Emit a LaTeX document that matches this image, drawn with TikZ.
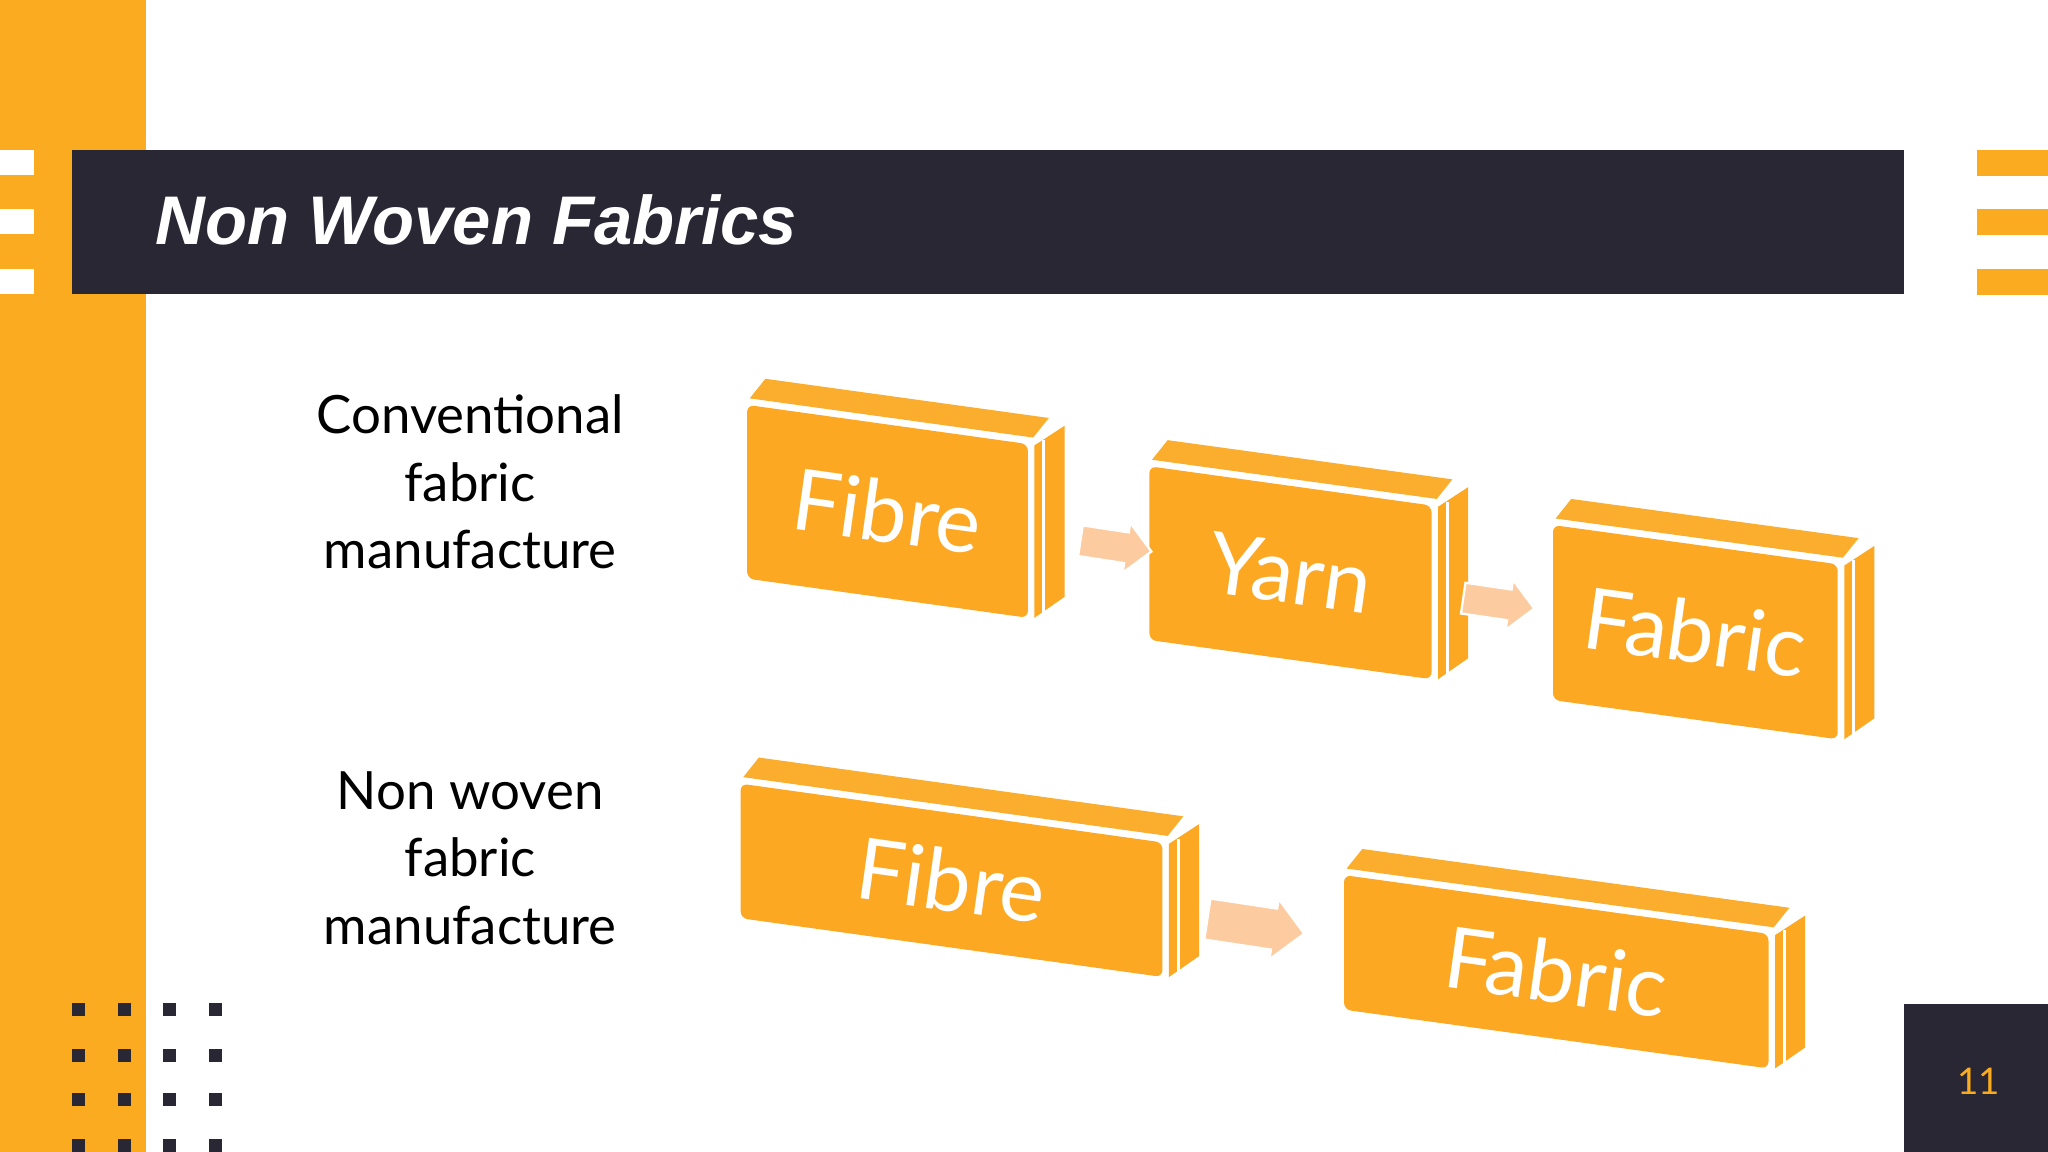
\documentclass[tikz,border=0pt]{standalone}
\usepackage{fontspec}
\setmainfont{Lato}
\newfontfamily\titlefont{Liberation Sans}
\usetikzlibrary{shapes.arrows}
\definecolor{org}{HTML}{FBAB1F}
\definecolor{boxc}{HTML}{FCA823}
\definecolor{topc}{HTML}{FBAE2E}
\definecolor{dark}{HTML}{282733}
\definecolor{peach}{HTML}{FDCBA0}
\tikzset{
 boxtext/.style={text=white,font=\fontsize{37}{40}\selectfont,inner sep=0},
 lab/.style={align=center,font=\fontsize{23}{29.5}\selectfont,text=black},
 parrow/.style={single arrow,fill=peach,draw=white,line width=1pt,minimum height=1.1cm,inner sep=0.22cm,single arrow head extend=0.15cm,sloped},
 dot/.style={fill=dark}
}
\newcommand\slab[7]{%
 \fill[topc] (#2+2,#3-5) -- (#2+14,#3-20) -- (#2+#4+16,#3+#6-20) -- (#2+#4+4,#3+#6-5) -- cycle;
 \fill[boxc,rounded corners=3] (#2,#3) -- (#2+#4,#3+#6) -- (#2+#4,#3+#6+#5) -- (#2,#3+#5) -- cycle;
 \fill[boxc] (#2+#4+5,#3+#6+1) -- (#2+#4+28,#3+#6-14) -- (#2+#4+28,#3+#6+#5-16) -- (#2+#4+5,#3+#6+#5) -- cycle;
 \draw[white,line width=1.2pt] (#2+#4+12,#3+#6-3) -- (#2+#4+12,#3+#6+#5-4);
 \node[boxtext,rotate=-8] (#1) at (#2+#4/2,#3+#6/2+#5/2) {#7};
}
\begin{document}
\begin{tikzpicture}[x=0.02cm,y=-0.02cm]
\useasboundingbox (0,0) rectangle (1568,882);
\fill[white] (0,0) rectangle (1568,882);
\fill[org] (0,0) rectangle (112,882);
\foreach \y in {115,160,206}{\fill[white] (0,\y) rectangle (26,\y+19);
 \fill[org] (1514,\y) rectangle (1568,\y+20);}
\fill[dark] (55,115) rectangle (1458,225);
\node[anchor=west,text=white,font=\titlefont\bfseries\itshape\fontsize{30}{34}\selectfont] (title) at (113,168) {Non Woven Fabrics};
\fill[dark] (1458,769) rectangle (1568,882);
\node[text=org,font=\fontsize{16}{18}\selectfont] (pg) at (1515,828) {11};
\foreach \x in {60,95,130,165}{\foreach \y in {773,808,842,877}{\fill[dot] (\x-5,\y-5) rectangle (\x+5,\y+5);}}
\node[lab] (l1) at (360,369) {Conventional\\fabric\\manufacture};
\node[lab] (l2) at (360,657) {Non woven\\fabric\\manufacture};
\slab{f1}{572}{310}{215}{133}{30}{F{}ibre}
\slab{y1}{880}{357}{216}{133}{30}{Yarn}
\slab{c1}{1189}{402}{218}{134}{30}{Fabric}
\slab{f2}{567}{600}{323}{103}{45}{F{}ibre}
\slab{c2}{1029}{670}{325}{103}{45}{Fabric}
\path (f1) -- (y1) node[parrow,midway,xshift=0.2cm]{};
\path (y1) -- (c1) node[parrow,midway,xshift=0.2cm]{};
\path (f2) -- (c2) node[parrow,midway,minimum height=1.5cm,inner sep=0.3cm]{};
\end{tikzpicture}
\end{document}
